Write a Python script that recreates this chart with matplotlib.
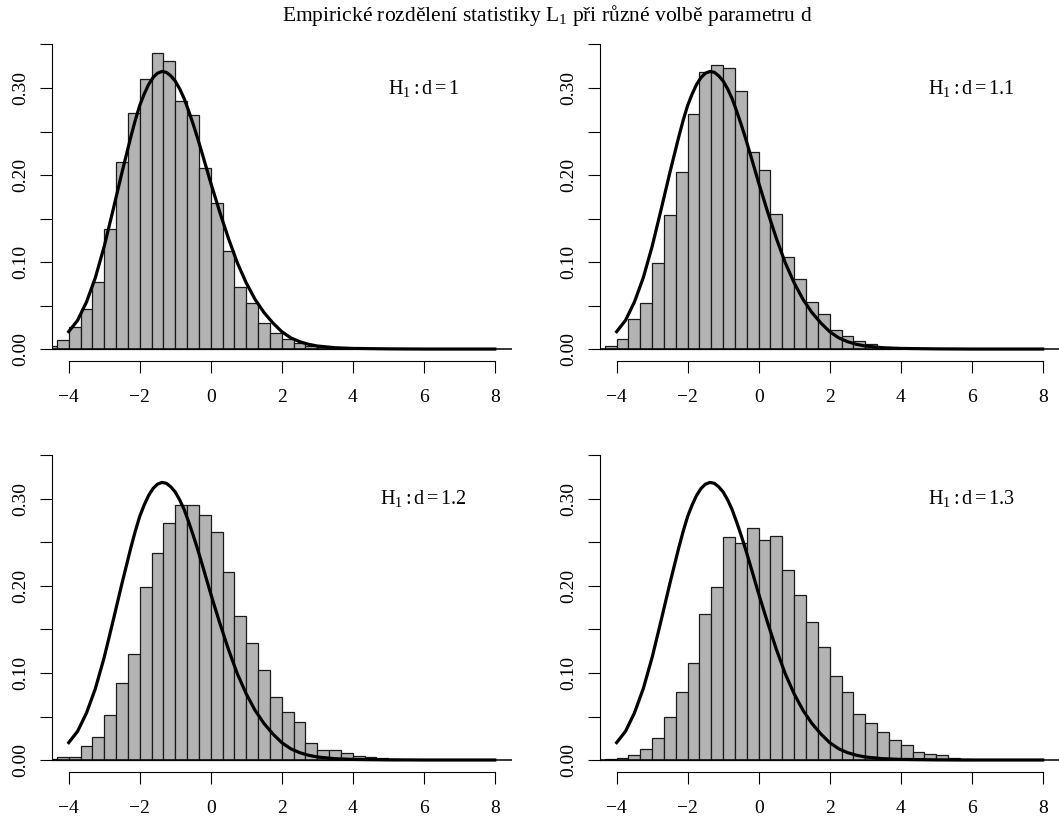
import numpy as np
import matplotlib
matplotlib.use("Agg")
import matplotlib.pyplot as plt

plt.rcParams['font.family'] = ['Liberation Serif', 'DejaVu Serif']
plt.rcParams['mathtext.fontset'] = 'custom'
plt.rcParams['mathtext.rm'] = 'Liberation Serif'
plt.rcParams['mathtext.it'] = 'Liberation Serif:italic'

title = "Empirické rozdělení statistiky $\\mathrm{L_1}$ při různé volbě parametru d"

# histogram bins: width 1/3, first bin starts at -14/3
bin_start = -14 / 3
bin_width = 1 / 3

d_labels = ["1", "1.1", "1.2", "1.3"]

dens_d10 = [0.003, 0.0103, 0.025, 0.0456, 0.0766, 0.138, 0.215, 0.271, 0.310, 0.340,
            0.331, 0.285, 0.269, 0.208, 0.168, 0.113, 0.0716, 0.0533, 0.0295, 0.019,
            0.012, 0.007, 0.004, 0.002, 0.001, 0.0005]
dens_d11 = [0.0, 0.003, 0.0115, 0.034, 0.053, 0.099, 0.154, 0.203, 0.270, 0.318,
            0.326, 0.323, 0.296, 0.227, 0.206, 0.155, 0.106, 0.081, 0.054, 0.040,
            0.022, 0.0145, 0.0095, 0.0055, 0.002, 0.001]
dens_d12 = [0.001, 0.003, 0.004, 0.0165, 0.0264, 0.0513, 0.088, 0.122, 0.199, 0.238,
            0.272, 0.293, 0.293, 0.281, 0.262, 0.216, 0.166, 0.134, 0.103, 0.072,
            0.0556, 0.0437, 0.0192, 0.0115, 0.0115, 0.0077, 0.005, 0.0038, 0.0019, 0.0008]
dens_d13 = [0.0, 0.001, 0.0027, 0.0057, 0.013, 0.025, 0.050, 0.078, 0.112, 0.168,
            0.199, 0.256, 0.249, 0.267, 0.253, 0.2575, 0.218, 0.190, 0.159, 0.1295,
            0.097, 0.078, 0.053, 0.0425, 0.032, 0.0234, 0.0172, 0.0087, 0.007, 0.0055,
            0.0022, 0.0008]

# theoretical density under H0
curve_x = [-4.0, -3.75, -3.5, -3.25, -3.0, -2.75, -2.5, -2.25, -2.125, -2.0, -1.875,
           -1.75, -1.625, -1.5, -1.375, -1.25, -1.125, -1.0, -0.875, -0.75, -0.625,
           -0.5, -0.375, -0.25, 0.0, 0.25, 0.5, 0.75, 1.0, 1.25, 1.5, 1.75, 2.0,
           2.25, 2.5, 2.75, 3.0, 3.5, 4.0, 5.0, 6.0, 8.0]
curve_y = [0.020, 0.033, 0.054, 0.082, 0.118, 0.160, 0.203, 0.244, 0.263, 0.280, 0.293,
           0.304, 0.312, 0.317, 0.319, 0.318, 0.314, 0.308, 0.299, 0.288, 0.274,
           0.259, 0.243, 0.226, 0.191, 0.158, 0.127, 0.099, 0.076, 0.057, 0.042, 0.030, 0.020,
           0.013, 0.0085, 0.0055, 0.0035, 0.0015, 0.0007, 0.0002, 0.0, 0.0]

xticks = [-4, -2, 0, 2, 4, 6, 8]
yticks = [0.0, 0.05, 0.10, 0.15, 0.20, 0.25, 0.30, 0.35]
ylabels = ["0.00", "", "0.10", "", "0.20", "", "0.30", ""]

fig = plt.figure(figsize=(10.59, 8.18), dpi=100)
fig.patch.set_facecolor("white")

positions = [[0.0488, 0.5584, 0.4345, 0.4021],
             [0.5662, 0.5584, 0.4345, 0.4021],
             [0.0488, 0.0560, 0.4345, 0.4021],
             [0.5662, 0.0560, 0.4345, 0.4021]]
all_dens = [dens_d10, dens_d11, dens_d12, dens_d13]

for pos, dens, d in zip(positions, all_dens, d_labels):
    ax = fig.add_axes(pos)
    lefts = bin_start + bin_width * np.arange(len(dens))
    ax.bar(lefts, dens, width=bin_width, align="edge", color="#b3b3b3",
           edgecolor="#1a1a1a", linewidth=0.9)
    ax.plot(curve_x, curve_y, color="black", lw=2.3, solid_joinstyle="round")
    ax.axhline(0, color="black", lw=1.1)
    ax.text(6, 0.3, "$\\mathrm{H_1 : d = " + d + "}$", ha="center", va="center", fontsize=14.5)

    ax.set_xlim(-4.48, 8.48)
    ax.set_ylim(-0.014, 0.364)
    ax.spines["top"].set_visible(False)
    ax.spines["right"].set_visible(False)
    ax.spines["left"].set_bounds(0, 0.35)
    ax.spines["bottom"].set_bounds(-4, 8)
    for s in ["left", "bottom"]:
        ax.spines[s].set_linewidth(0.8)
    ax.set_xticks(xticks)
    ax.set_xticklabels(["\u2212" + str(-t) if t < 0 else str(t) for t in xticks])
    ax.set_yticks(yticks)
    ax.set_yticklabels(ylabels)
    ax.tick_params(length=8.3, width=0.8, labelsize=14)
    ax.tick_params(axis="x", pad=12)
    ax.tick_params(axis="y", pad=7.5, labelrotation=90)
    for lab in ax.get_yticklabels():
        lab.set_va("center")

fig.text(0.5165, 1 - 16 / 818, title, ha="center", va="center", fontsize=15.5)

fig.savefig("out.png", dpi=100)
